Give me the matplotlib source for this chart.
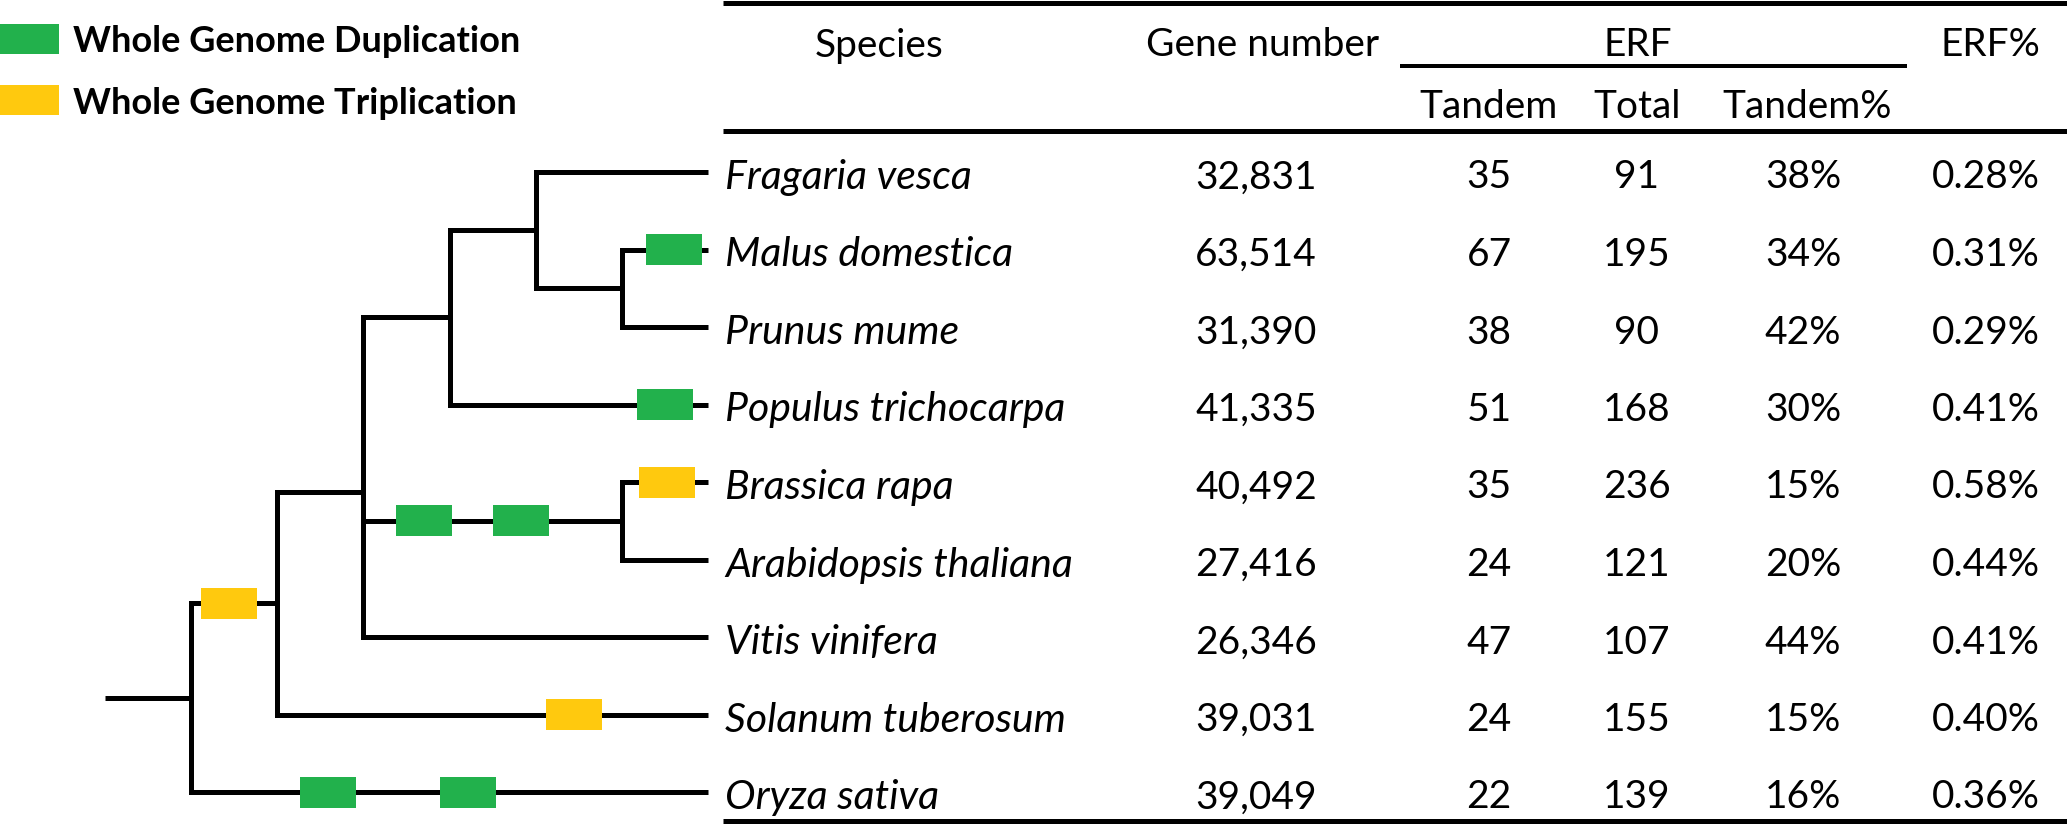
import matplotlib
matplotlib.use('Agg')
import matplotlib.pyplot as plt
from matplotlib.patches import Rectangle

plt.rcParams['font.family'] = ['Lato', 'DejaVu Sans']

# table data, one entry per species (top to bottom)
species = ['Fragaria vesca', 'Malus domestica', 'Prunus mume', 'Populus trichocarpa',
           'Brassica rapa', 'Arabidopsis thaliana', 'Vitis vinifera',
           'Solanum tuberosum', 'Oryza sativa']
gene_number = [32831, 63514, 31390, 41335, 40492, 27416, 26346, 39031, 39049]
erf_tandem = [35, 67, 38, 51, 35, 24, 47, 24, 22]
erf_total = [91, 195, 90, 168, 236, 121, 107, 155, 139]
tandem_pct = [38, 34, 42, 30, 15, 20, 44, 15, 16]
erf_pct = [0.28, 0.31, 0.29, 0.41, 0.58, 0.44, 0.41, 0.40, 0.36]

# tree topology: (node name, children); leaves are species names
tree = ('root', [
    ('N1', [
        ('N2', [
            ('N4', [
                ('N5', ['Fragaria vesca',
                        ('N6', ['Malus domestica', 'Prunus mume'])]),
                'Populus trichocarpa']),
            ('N3', ['Brassica rapa', 'Arabidopsis thaliana']),
            'Vitis vinifera']),
        'Solanum tuberosum']),
    'Oryza sativa'])
node_depth = {'root': 1, 'N1': 2, 'N2': 3, 'N4': 4, 'N5': 5, 'N6': 6, 'N3': 6}

# polyploidy events on the branch leading to each node
events = {
    'N1': ['WGT'],
    'Oryza sativa': ['WGD', 'WGD'],
    'Solanum tuberosum': ['WGT'],
    'N3': ['WGD', 'WGD'],
    'Brassica rapa': ['WGT'],
    'Populus trichocarpa': ['WGD'],
    'Malus domestica': ['WGD'],
}
event_labels = {'WGD': 'Whole Genome Duplication', 'WGT': 'Whole Genome Triplication'}
event_colors = {'WGD': '#22B14C', 'WGT': '#FFC90E'}

# layout (pixel units of the output image)
W, H = 2067, 827
x_stem, x_leaf = 105, 708
n_levels = 7
row_y0, row_step = 172, 77.5
# box centres along each branch
event_x = {
    'N1': [229],
    'Oryza sativa': [328, 468],
    'Solanum tuberosum': [574],
    'N3': [424, 521],
    'Brassica rapa': [667],
    'Populus trichocarpa': [665],
    'Malus domestica': [674],
}
box_w, box_h = 56, 31
tree_lw = 5 * 0.72
fs = 28
fs_it = 29.5
fs_leg = 26

fig = plt.figure(figsize=(W / 100, H / 100), dpi=100)
ax = fig.add_axes([0, 0, 1, 1])
ax.set_xlim(0, W)
ax.set_ylim(H, 0)
ax.axis('off')


def level_x(d):
    return x_stem + d * (x_leaf - x_stem) / n_levels


def draw(node):
    """Draw node and its subtree, return (x, y) of node."""
    if isinstance(node, str):
        return x_leaf, row_y0 + species.index(node) * row_step
    name, children = node
    x = level_x(node_depth[name])
    pts = [draw(c) for c in children]
    ys = [p[1] for p in pts]
    y = sum(ys) / len(ys)
    ax.plot([x, x], [min(ys), max(ys)], color='black', lw=tree_lw,
            solid_capstyle='projecting', zorder=2)
    for c, (cx, cy) in zip(children, pts):
        ax.plot([x, cx], [cy, cy], color='black', lw=tree_lw,
                solid_capstyle='butt', zorder=2)
        cname = c if isinstance(c, str) else c[0]
        for ev, ex in zip(events.get(cname, []), event_x.get(cname, [])):
            ax.add_patch(Rectangle((ex - box_w / 2, cy - box_h / 2), box_w, box_h,
                                   facecolor=event_colors[ev], edgecolor='none', zorder=3))
    return x, y


rx, ry = draw(tree)
ax.plot([x_stem, rx], [ry, ry], color='black', lw=tree_lw, solid_capstyle='butt')

# legend
for i, ev in enumerate(['WGD', 'WGT']):
    ly = 39 + i * 61
    ax.add_patch(Rectangle((0, ly - 15), 59, 30, facecolor=event_colors[ev], edgecolor='none'))
    ax.text(73, ly, event_labels[ev], fontsize=fs_leg, fontweight='bold',
            ha='left', va='center_baseline')

# table rules
tx0 = 723
ax.plot([tx0, W], [2.5, 2.5], color='black', lw=5 * 0.72, solid_capstyle='butt')
ax.plot([tx0, W], [130.5, 130.5], color='black', lw=5 * 0.72, solid_capstyle='butt')
ax.plot([tx0, W], [820.5, 820.5], color='black', lw=5 * 0.72, solid_capstyle='butt')
ax.plot([1400, 1907], [65.5, 65.5], color='black', lw=4 * 0.72, solid_capstyle='butt')

# headers
col_x = {'gene': 1256, 'tandem': 1489, 'total': 1637, 'tpct': 1803, 'erf': 1986}
hy1, hy2 = 42, 103
ax.text(879, hy1, 'Species', fontsize=fs, ha='center', va='center_baseline')
ax.text(1263, hy1, 'Gene number', fontsize=fs, ha='center', va='center_baseline')
ax.text(1638, hy1, 'ERF', fontsize=fs, ha='center', va='center_baseline')
ax.text(1990, hy1, 'ERF%', fontsize=fs, ha='center', va='center_baseline')
ax.text(col_x['tandem'], hy2, 'Tandem', fontsize=fs, ha='center', va='center_baseline')
ax.text(col_x['total'], hy2, 'Total', fontsize=fs, ha='center', va='center_baseline')
ax.text(1807, hy2, 'Tandem%', fontsize=fs, ha='center', va='center_baseline')

# rows
for i, sp in enumerate(species):
    y = row_y0 + i * row_step + 2
    ax.text(725, y, sp, fontsize=fs_it, style='italic', ha='left', va='center_baseline')
    ax.text(col_x['gene'], y, f'{gene_number[i]:,}', fontsize=fs, ha='center', va='center_baseline')
    ax.text(col_x['tandem'], y, str(erf_tandem[i]), fontsize=fs, ha='center', va='center_baseline')
    ax.text(col_x['total'], y, str(erf_total[i]), fontsize=fs, ha='center', va='center_baseline')
    ax.text(col_x['tpct'], y, f'{tandem_pct[i]}%', fontsize=fs, ha='center', va='center_baseline')
    ax.text(col_x['erf'], y, f'{erf_pct[i]:.2f}%', fontsize=fs, ha='center', va='center_baseline')

fig.savefig('out.png', dpi=100)
